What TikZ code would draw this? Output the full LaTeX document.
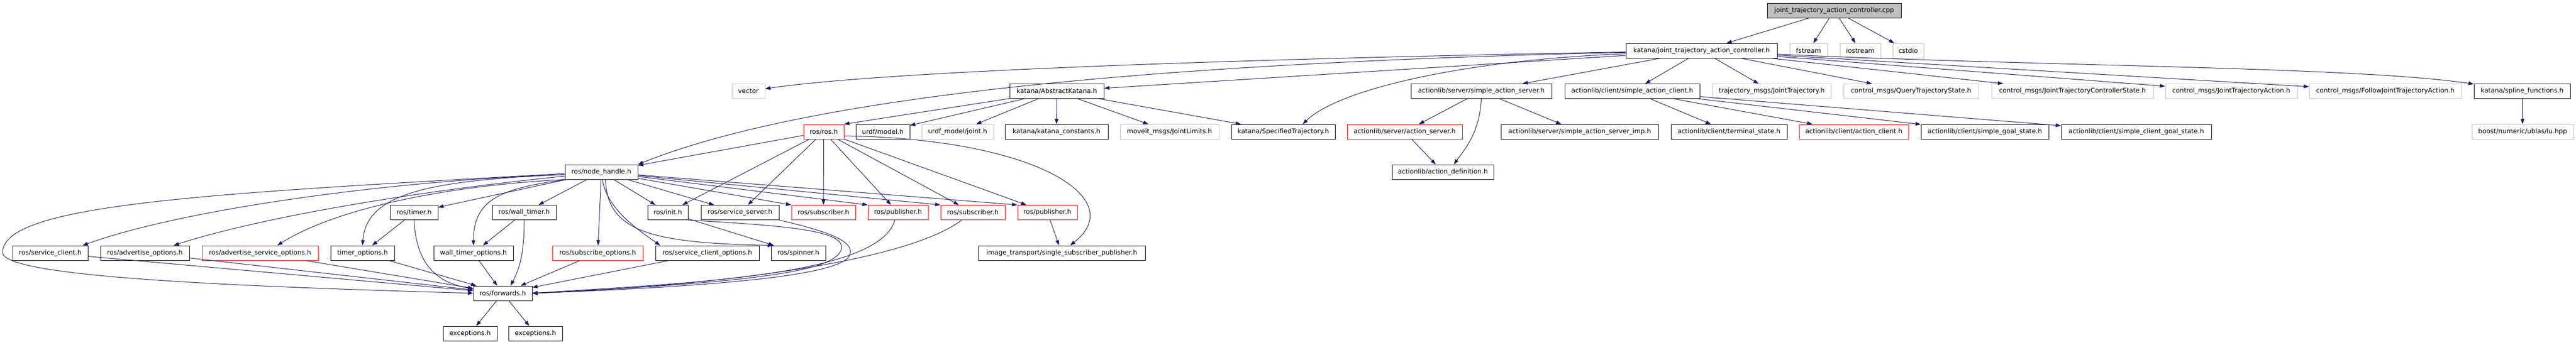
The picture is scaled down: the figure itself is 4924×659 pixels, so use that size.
\documentclass[tikz,border=0pt]{standalone}
\usepackage{fontspec}
\setmainfont{DejaVu Sans}
\usetikzlibrary{arrows.meta}
\definecolor{edgeblue}{HTML}{191970}
\definecolor{extgray}{HTML}{BFBFBF}
\definecolor{truncred}{HTML}{FF0000}

\begin{document}
\begin{tikzpicture}[x=1pt, y=-1pt,
	hdr/.style={draw=black, line width=1pt, minimum height=28pt, inner sep=0pt, font=\fontsize{12.4}{14}\selectfont},
	ext/.style={hdr, draw=extgray},
	trunc/.style={hdr, draw=truncred},
	dep/.style={draw=edgeblue, line width=1pt, -{Triangle[length=10pt, width=7pt]}}]
	\useasboundingbox (0,0) rectangle (4924,659); % Explicit bounding box

	% top rows
	\node[hdr, fill=extgray, minimum width=256pt] (root) at (3506,20) {joint\_trajectory\_action\_controller.cpp};
	\node[hdr, minimum width=289pt] (jtac) at (3252.5,97) {katana/joint\_trajectory\_action\_controller.h};
	\node[ext, minimum width=72pt] (fstream) at (3457,97) {fstream};
	\node[ext, minimum width=78pt] (iostream) at (3556,97) {iostream};
	\node[ext, minimum width=59pt] (cstdio) at (3647.5,97) {cstdio};

	\node[ext, minimum width=63pt] (vector) at (1430.5,174.5) {vector};
	\node[hdr, minimum width=180pt] (abskat) at (2020,174.5) {katana/AbstractKatana.h};
	\node[hdr, minimum width=269pt] (sas) at (2831.5,174.5) {actionlib/server/simple\_action\_server.h};
	\node[hdr, minimum width=258pt] (sac) at (3120,174.5) {actionlib/client/simple\_action\_client.h};
	\node[ext, minimum width=227pt] (jtraj) at (3386.5,174.5) {trajectory\_msgs/JointTrajectory.h};
	\node[ext, minimum width=258pt] (qts) at (3653,174.5) {control\_msgs/QueryTrajectoryState.h};
	\node[ext, minimum width=309pt] (jtcs) at (3961.5,174.5) {control\_msgs/JointTrajectoryControllerState.h};
	\node[ext, minimum width=252pt] (jta) at (4265,174.5) {control\_msgs/JointTrajectoryAction.h};
	\node[ext, minimum width=291pt] (fjta) at (4559.5,174.5) {control\_msgs/FollowJointTrajectoryAction.h};
	\node[hdr, minimum width=184pt] (spline) at (4821,174.5) {katana/spline\_functions.h};

	\node[trunc, minimum width=77pt] (rosh) at (1574.5,252) {ros/ros.h};
	\node[hdr, minimum width=103pt] (urdfmodel) at (1687.5,252) {urdf/model.h};
	\node[ext, minimum width=137pt] (urdfjoint) at (1830.5,252) {urdf\_model/joint.h};
	\node[hdr, minimum width=197pt] (kconst) at (2019.5,252) {katana/katana\_constants.h};
	\node[ext, minimum width=189pt] (moveit) at (2235.5,252) {moveit\_msgs/JointLimits.h};
	\node[hdr, minimum width=198pt] (spectraj) at (2453,252) {katana/SpecifiedTrajectory.h};
	\node[trunc, minimum width=220pt] (actserver) at (2685,252) {actionlib/server/action\_server.h};
	\node[hdr, minimum width=301pt] (sasimp) at (3019.5,252) {actionlib/server/simple\_action\_server\_imp.h};
	\node[hdr, minimum width=222pt] (termstate) at (3305,252) {actionlib/client/terminal\_state.h};
	\node[trunc, minimum width=209pt] (actclient) at (3543.5,252) {actionlib/client/action\_client.h};
	\node[hdr, minimum width=244pt] (goalstate) at (3794,252) {actionlib/client/simple\_goal\_state.h};
	\node[hdr, minimum width=287pt] (cgoalstate) at (4083.5,252) {actionlib/client/simple\_client\_goal\_state.h};
	\node[ext, minimum width=194pt] (ublas) at (4822,252) {boost/numeric/ublas/lu.hpp};

	% ros part
	\node[hdr, minimum width=139pt] (nodehandle) at (1149.5,329) {ros/node\_handle.h};
	\node[hdr, minimum width=194pt] (actdef) at (2758,329) {actionlib/action\_definition.h};

	\node[hdr, minimum width=91pt] (timer) at (791.5,406.5) {ros/timer.h};
	\node[hdr, minimum width=122pt] (walltimer) at (1002,406.5) {ros/wall\_timer.h};
	\node[hdr, minimum width=77pt] (init) at (1276.5,406.5) {ros/init.h};
	\node[hdr, minimum width=149pt] (srvserver) at (1414.5,406.5) {ros/service\_server.h};
	\node[trunc, minimum width=122pt] (sub1) at (1574,406.5) {ros/subscriber.h};
	\node[trunc, minimum width=115pt] (pub1) at (1716.5,406.5) {ros/publisher.h};
	\node[trunc, minimum width=123pt] (sub2) at (1859.5,406.5) {ros/subscriber.h};
	\node[trunc, minimum width=114pt] (pub2) at (2002,406.5) {ros/publisher.h};

	\node[hdr, minimum width=144pt] (srvclient) at (96,484) {ros/service\_client.h};
	\node[hdr, minimum width=170pt] (advopt) at (277,484) {ros/advertise\_options.h};
	\node[trunc, minimum width=222pt] (advsrvopt) at (497,484) {ros/advertise\_service\_options.h};
	\node[hdr, minimum width=122pt] (timeropt) at (693,484) {timer\_options.h};
	\node[hdr, minimum width=152pt] (walltimeropt) at (905,484) {wall\_timer\_options.h};
	\node[trunc, minimum width=173pt] (subopt) at (1142.5,484) {ros/subscribe\_options.h};
	\node[hdr, minimum width=198pt] (srvclientopt) at (1352,484) {ros/service\_client\_options.h};
	\node[hdr, minimum width=104pt] (spinner) at (1526,484) {ros/spinner.h};
	\node[hdr, minimum width=319pt] (imgtrans) at (2029.5,484) {image\_transport/single\_subscriber\_publisher.h};

	\node[hdr, minimum width=112pt] (forwards) at (961,561) {ros/forwards.h};
	\node[hdr, minimum width=103pt] (exc1) at (898.5,638) {exceptions.h};
	\node[hdr, minimum width=103pt] (exc2) at (1023.5,638) {exceptions.h};

	% includes
	\draw[dep] (root) -- (jtac);
	\draw[dep] (root) -- (fstream);
	\draw[dep] (root) -- (iostream);
	\draw[dep] (root) -- (cstdio);

	\draw[dep] (jtac) .. controls (2400,112) and (1700,135) .. (vector);
	\draw[dep] (jtac) .. controls (2000,125) and (1480,210) .. (nodehandle.north east);
	\draw[dep] (jtac) -- (abskat);
	\draw[dep] (jtac) .. controls (2800,115) and (2560,170) .. ([xshift=37pt]spectraj.north);
	\draw[dep] (jtac) -- (sas);
	\draw[dep] (jtac) -- (sac);
	\draw[dep] (jtac) -- (jtraj);
	\draw[dep] (jtac) -- (qts);
	\draw[dep] (jtac) -- (jtcs);
	\draw[dep] (jtac) -- (jta);
	\draw[dep] (jtac) -- (fjta);
	\draw[dep] (jtac) .. controls (3900,127) and (4500,127) .. (spline);

	\draw[dep] (abskat) -- (rosh.north east);
	\draw[dep] (abskat) -- (urdfmodel);
	\draw[dep] (abskat) -- (urdfjoint);
	\draw[dep] (abskat) -- (kconst);
	\draw[dep] (abskat) -- (moveit);
	\draw[dep] (abskat) -- (spectraj);

	\draw[dep] (sas) -- (actserver);
	\draw[dep] (sas) -- (sasimp);
	\draw[dep] (sas.south) .. controls (2828,255) and (2800,285) .. ([xshift=21pt]actdef.north);
	\draw[dep] (actserver) -- (actdef);
	\draw[dep] (sac) -- (termstate);
	\draw[dep] (sac) -- (actclient);
	\draw[dep] (sac) -- (goalstate);
	\draw[dep] (sac) -- (cgoalstate);
	\draw[dep] (spline) -- (ublas);

	\draw[dep] (rosh) -- (nodehandle);
	\draw[dep] (rosh) -- (init);
	\draw[dep] (rosh) -- (srvserver);
	\draw[dep] (rosh) -- (sub1);
	\draw[dep] (rosh) -- (pub1);
	\draw[dep] (rosh) -- (sub2);
	\draw[dep] (rosh) -- (pub2);
	\draw[dep] ([yshift=-8pt]rosh.east) .. controls (1980,265) and (2160,380) .. ([xshift=16pt]imgtrans.north);

	\draw[dep] ([yshift=-3pt]nodehandle.west) .. controls (400,370) and (5,390) .. (5,483)
		.. controls (5,530) and (450,548) .. (forwards.west);
	\draw[dep] ([yshift=-5pt]nodehandle.west) .. controls (750,345) and (350,400) .. ([xshift=62pt]srvclient.north);
	\draw[dep] ([yshift=-8pt]nodehandle.west) .. controls (800,365) and (500,415) .. ([xshift=55pt]advopt.north);
	\draw[dep] (nodehandle.south west) .. controls (850,355) and (640,400) .. ([xshift=33pt]advsrvopt.north);
	\draw[dep] ([yshift=-5pt]nodehandle.west) .. controls (820,345) and (700,370) .. (timeropt.north);
	\draw[dep] (nodehandle) -- (timer);
	\draw[dep] ([xshift=3pt]nodehandle.south west) .. controls (960,360) and (905,380) .. (walltimeropt.north);
	\draw[dep] (nodehandle) -- (walltimer);
	\draw[dep] (nodehandle) -- (subopt);
	\draw[dep] ([xshift=2pt]nodehandle.south) .. controls (1160,400) and (1220,440) .. ([xshift=-90pt]srvclientopt.north);
	\draw[dep] ([xshift=8pt]nodehandle.south) .. controls (1160,445) and (1250,465) .. ([xshift=4pt]spinner.north west);
	\draw[dep] (nodehandle) -- (init);
	\draw[dep] (nodehandle) -- (srvserver);
	\draw[dep] (nodehandle) -- (sub1.north west);
	\draw[dep] (nodehandle) -- (pub1.north west);
	\draw[dep] (nodehandle) -- (sub2.north west);
	\draw[dep] (nodehandle) -- (pub2.north west);

	\draw[dep] (timer) -- (timeropt);
	\draw[dep] (timer.south) .. controls (795,500) and (830,540) .. ([yshift=-6pt]forwards.north west);
	\draw[dep] (walltimer) -- (walltimeropt);
	\draw[dep] (walltimer.south) .. controls (1002,480) and (995,510) .. ([xshift=15pt]forwards.north);
	\draw[dep] (init) -- (spinner);
	\draw[dep] (init.south east) .. controls (1500,432) and (1625,440) .. (1607,480)
		.. controls (1590,518) and (1450,540) .. (forwards.east);
	\draw[dep] (srvserver.south east) .. controls (1570,440) and (1640,460) .. (1623,490)
		.. controls (1606,520) and (1450,545) .. (forwards.east);
	\draw[dep] ([xshift=-6pt]pub1.south) .. controls (1680,530) and (1300,542) .. (forwards.east);
	\draw[dep] ([xshift=-21pt]sub2.south) .. controls (1720,510) and (1300,550) .. (forwards.east);
	\draw[dep] (pub2) -- (imgtrans);

	\draw[dep] (srvclient) -- (forwards);
	\draw[dep] (advopt) -- (forwards);
	\draw[dep] (advsrvopt) -- (forwards);
	\draw[dep] (timeropt) -- (forwards);
	\draw[dep] (walltimeropt) -- (forwards);
	\draw[dep] (subopt) -- (forwards);
	\draw[dep] (srvclientopt) -- (forwards);
	\draw[dep] (forwards) -- (exc1);
	\draw[dep] (forwards) -- (exc2);
\end{tikzpicture}
\end{document}
